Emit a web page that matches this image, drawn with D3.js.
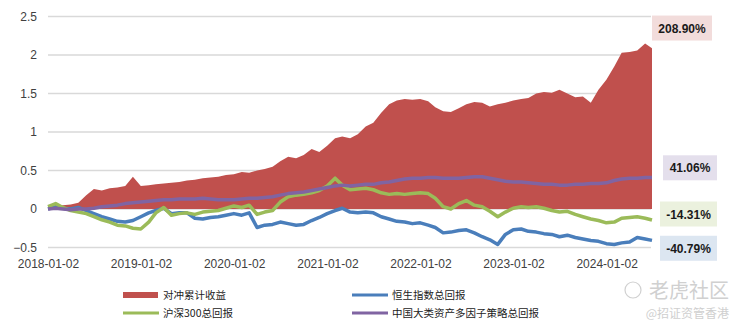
<!DOCTYPE html>
<html><head><meta charset="utf-8">
<script src="https://cdn.jsdelivr.net/npm/d3@7"></script>
<style>body{margin:0;background:#fff}svg{display:block}</style>
</head><body><svg id="c" width="740" height="330"></svg>
<script>
const dates = ["2018-01-02","2018-02-01","2018-03-01","2018-04-01","2018-05-01","2018-06-01","2018-07-01","2018-08-01","2018-09-01","2018-10-01","2018-11-01","2018-12-01",
"2019-01-01","2019-02-01","2019-03-01","2019-04-01","2019-05-01","2019-06-01","2019-07-01","2019-08-01","2019-09-01","2019-10-01","2019-11-01","2019-12-01",
"2020-01-01","2020-02-01","2020-03-01","2020-04-01","2020-05-01","2020-06-01","2020-07-01","2020-08-01","2020-09-01","2020-10-01","2020-11-01","2020-12-01",
"2021-01-01","2021-02-01","2021-03-01","2021-04-01","2021-05-01","2021-06-01","2021-07-01","2021-08-01","2021-09-01","2021-10-01","2021-11-01","2021-12-01",
"2022-01-01","2022-02-01","2022-03-01","2022-04-01","2022-05-01","2022-06-01","2022-07-01","2022-08-01","2022-09-01","2022-10-01","2022-11-01","2022-12-01",
"2023-01-01","2023-02-01","2023-03-01","2023-04-01","2023-05-01","2023-06-01","2023-07-01","2023-08-01","2023-09-01","2023-10-01","2023-11-01","2023-12-01",
"2024-01-01","2024-02-01","2024-03-01","2024-04-01","2024-05-01","2024-06-01","2024-06-28"];

const hedge = [0.00,0.03,0.05,0.06,0.08,0.18,0.26,0.24,0.27,0.28,0.30,0.42,
0.30,0.31,0.32,0.33,0.34,0.35,0.37,0.38,0.40,0.41,0.42,0.44,
0.45,0.48,0.47,0.50,0.52,0.55,0.62,0.68,0.66,0.70,0.78,0.74,
0.82,0.92,0.94,0.92,0.97,1.07,1.12,1.25,1.36,1.41,1.43,1.42,
1.43,1.40,1.32,1.27,1.26,1.31,1.36,1.39,1.38,1.33,1.36,1.38,
1.41,1.43,1.44,1.50,1.52,1.51,1.55,1.50,1.45,1.46,1.38,1.55,
1.68,1.85,2.03,2.04,2.06,2.15,2.089];

const hsi = [0.00,0.03,0.01,0.00,0.02,-0.02,-0.06,-0.10,-0.13,-0.16,-0.17,-0.15,
-0.10,-0.05,-0.02,0.01,-0.06,-0.05,-0.05,-0.12,-0.13,-0.11,-0.10,-0.08,
-0.06,-0.08,-0.05,-0.24,-0.21,-0.20,-0.17,-0.19,-0.21,-0.20,-0.15,-0.11,
-0.06,-0.02,0.01,-0.04,-0.05,-0.04,-0.05,-0.10,-0.13,-0.16,-0.17,-0.19,
-0.18,-0.21,-0.24,-0.31,-0.30,-0.28,-0.27,-0.31,-0.36,-0.40,-0.46,-0.33,
-0.27,-0.26,-0.29,-0.30,-0.32,-0.33,-0.36,-0.34,-0.37,-0.39,-0.41,-0.42,
-0.45,-0.46,-0.44,-0.43,-0.37,-0.39,-0.4079];

const csi300 = [0.03,0.07,0.02,-0.02,-0.04,-0.06,-0.10,-0.14,-0.17,-0.21,-0.22,-0.25,
-0.26,-0.17,-0.05,0.02,-0.08,-0.06,-0.05,-0.07,-0.04,-0.03,-0.02,0.01,
0.04,0.02,0.05,-0.07,-0.04,-0.02,0.09,0.16,0.18,0.19,0.21,0.24,
0.30,0.40,0.31,0.25,0.26,0.27,0.25,0.21,0.19,0.20,0.19,0.20,
0.21,0.20,0.14,0.03,0.00,0.07,0.11,0.05,0.03,-0.03,-0.10,-0.04,
0.01,0.03,0.02,0.03,0.01,-0.02,-0.04,-0.03,-0.07,-0.10,-0.13,-0.15,
-0.18,-0.17,-0.12,-0.11,-0.10,-0.12,-0.1431];

const strategy = [0.00,0.01,0.00,-0.01,0.00,0.00,0.01,0.03,0.04,0.05,0.07,0.08,
0.09,0.10,0.11,0.12,0.12,0.13,0.13,0.13,0.14,0.13,0.12,0.12,
0.12,0.13,0.14,0.14,0.15,0.16,0.18,0.20,0.21,0.22,0.24,0.26,
0.28,0.30,0.31,0.30,0.31,0.32,0.32,0.34,0.35,0.37,0.39,0.40,
0.40,0.41,0.41,0.40,0.40,0.40,0.41,0.42,0.42,0.40,0.38,0.36,
0.35,0.35,0.34,0.33,0.32,0.32,0.31,0.31,0.32,0.32,0.33,0.33,
0.34,0.37,0.39,0.40,0.40,0.41,0.4106];

const yTicks = [-0.5,0,0.5,1,1.5,2,2.5];
const xTickLabels = ["2018-01-02","2019-01-02","2020-01-02","2021-01-02","2022-01-02","2023-01-02","2024-01-02"];
const seriesNames = ["对冲累计收益","恒生指数总回报","沪深300总回报","中国大类资产多因子策略总回报"];
const endLabels = ["208.90%","41.06%","-14.31%","-40.79%"];
// label box anchor levels (in axis units) where each end label sits
const endLabelLevels = [2.35, 0.535, -0.065, -0.51];

const parse = d3.timeParse("%Y-%m-%d");
const D = dates.map(parse);
const svg = d3.select("#c");
const font = "'Liberation Sans', Arial, sans-serif";
const cjk = "'Noto Sans CJK SC', sans-serif";

const x = d3.scaleTime().domain([D[0], D[D.length-1]]).range([48, 652]);
const y = d3.scaleLinear().domain([-0.5, 2.5]).range([247.5, 16.5]);

// grid
svg.append("g").selectAll("line").data(yTicks).join("line")
  .attr("x1", 48).attr("x2", 651).attr("y1", d => y(d)).attr("y2", d => y(d))
  .attr("stroke", "#d9d9d9").attr("stroke-width", 1.3);

const yAxis = d3.axisLeft(y).tickValues(yTicks).tickSize(0).tickPadding(0).tickFormat(d3.format("~g"));
svg.append("g").attr("transform", "translate(37,0)").call(yAxis)
  .call(g => g.select(".domain").remove())
  .selectAll("text").attr("font-family", font).attr("font-size", 12).attr("fill", "#404040");

const xAxis = d3.axisBottom(x).tickValues(xTickLabels.map(parse)).tickSize(0).tickPadding(0).tickFormat(d3.timeFormat("%Y-%m-%d"));
svg.append("g").attr("transform", "translate(0,259)").call(xAxis)
  .call(g => g.select(".domain").remove())
  .selectAll("text").attr("font-family", font).attr("font-size", 12).attr("fill", "#404040");

const area = d3.area().x((d, i) => x(D[i])).y0(y(0)).y1(d => y(d));
svg.append("path").datum(hedge).attr("d", area).attr("fill", "#c0504d");

const line = d3.line().x((d, i) => x(D[i])).y(d => y(d));
const lines = [[hsi, "#4a7ebb"], [csi300, "#9bbb59"], [strategy, "#8064a2"]];
lines.forEach(([s, c]) => {
  svg.append("path").datum(s).attr("d", line).attr("fill", "none")
    .attr("stroke", c).attr("stroke-width", 3.5).attr("stroke-linejoin", "round");
});

const lab = [
  {t: endLabels[0], lv: endLabelLevels[0], fill: "#f2dcdb", x0: 652, w: 60},
  {t: endLabels[1], lv: endLabelLevels[1], fill: "#e4dfec", x0: 663, w: 54},
  {t: endLabels[2], lv: endLabelLevels[2], fill: "#ebf1de", x0: 660, w: 57},
  {t: endLabels[3], lv: endLabelLevels[3], fill: "#dce6f1", x0: 660, w: 57}
];
lab.forEach(l => {
  const cy = y(l.lv);
  svg.append("rect").attr("x", l.x0).attr("y", cy - 12.5).attr("width", l.w).attr("height", 25).attr("fill", l.fill);
  svg.append("text").attr("x", l.x0 + l.w/2).attr("y", cy + 4.5).attr("text-anchor", "middle")
    .attr("font-family", font).attr("font-size", 12).attr("font-weight", "bold").attr("fill", "#1a1a1a").text(l.t);
});

const leg = [
  {n: seriesNames[0], c: "#c0504d", x: 123, y: 295, area: true},
  {n: seriesNames[1], c: "#4a7ebb", x: 352, y: 295},
  {n: seriesNames[2], c: "#9bbb59", x: 123, y: 313},
  {n: seriesNames[3], c: "#8064a2", x: 352, y: 313}
];
leg.forEach(l => {
  if (l.area) svg.append("rect").attr("x", l.x).attr("y", l.y - 3).attr("width", 35).attr("height", 6).attr("fill", l.c);
  else svg.append("line").attr("x1", l.x).attr("x2", l.x + 36).attr("y1", l.y).attr("y2", l.y).attr("stroke", l.c).attr("stroke-width", 3);
  svg.append("text").attr("x", l.x + 40).attr("y", l.y + 4).attr("font-family", cjk).attr("font-size", 10.5).attr("fill", "#222").text(l.n);
});

svg.append("circle").attr("cx", 633).attr("cy", 290).attr("r", 8).attr("fill", "none").attr("stroke", "#d0d0d0").attr("stroke-width", 1.2);
svg.append("text").attr("x", 729).attr("y", 298).attr("text-anchor", "end").attr("font-family", cjk).attr("font-size", 20).attr("fill", "#d0d0d0").text("老虎社区");
svg.append("text").attr("x", 729).attr("y", 318).attr("text-anchor", "end").attr("font-family", cjk).attr("font-size", 12).attr("fill", "#cfcfcf").text("@招证资管香港");
</script></body></html>
